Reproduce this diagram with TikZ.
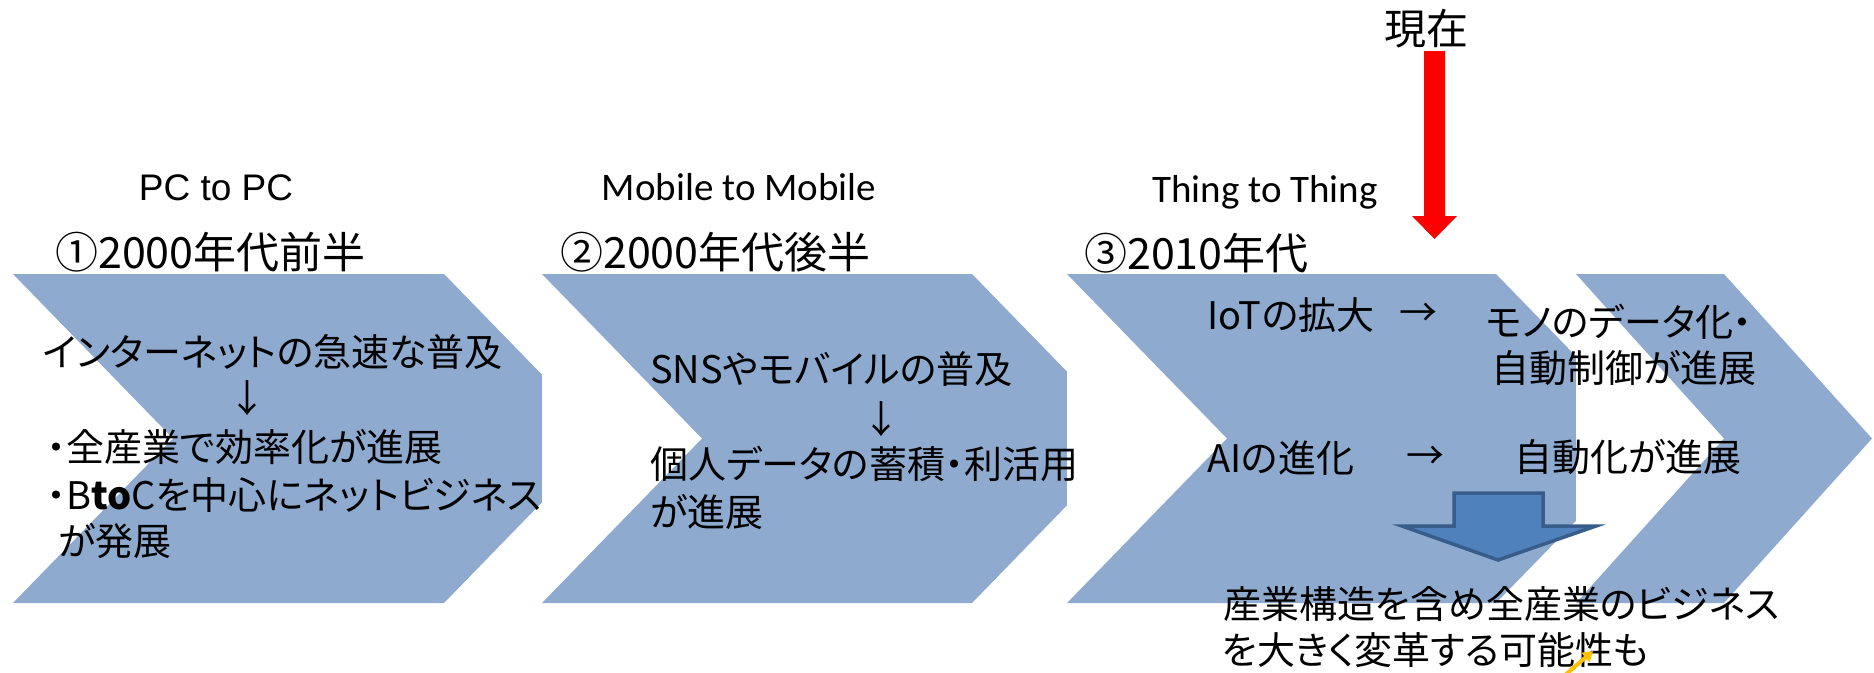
\documentclass[tikz,border=0pt]{standalone}
\usepackage{fontspec}
\setmainfont{Noto Sans CJK JP}[RawFeature=+palt]
\newfontfamily\carlitofont{Carlito}
\newfontfamily\arialfont{Liberation Sans}
\usetikzlibrary{arrows.meta}
\definecolor{chevblue}{RGB}{142,170,207}
\definecolor{arrowblue}{RGB}{79,129,189}
\definecolor{arrowedge}{RGB}{56,93,138}
\definecolor{marker}{RGB}{255,192,0}
\tikzset{
  jtext/.style={inner sep=0pt, anchor=west, font=\fontsize{38}{46}\selectfont},
  era/.style={inner sep=0pt, anchor=west, font=\fontsize{43}{50}\selectfont},
  tag/.style={inner sep=0pt, anchor=base, font=\carlitofont\fontsize{39}{46}\selectfont},
  down/.style={inner sep=0pt, font=\fontsize{38}{46}\selectfont},
}
\begin{document}
\begin{tikzpicture}[x=1pt,y=-1pt]
\useasboundingbox (0,0) rectangle (1874,672);

\fill[chevblue] (13,274) -- (444,274) -- (604,438.5) -- (444,603) -- (13,603) -- (173,438.5) -- cycle;
\fill[white] (542,274) -- (702,438.5) -- (542,603) -- cycle;
\fill[chevblue] (542,274) -- (972,274) -- (1132,438.5) -- (972,603) -- (542,603) -- (702,438.5) -- cycle;
\fill[white] (1067,274) -- (1227,438.5) -- (1067,603) -- cycle;
\fill[chevblue] (1067,274) -- (1496,274) -- (1656,438.5) -- (1496,603) -- (1067,603) -- (1227,438.5) -- cycle;
\fill[white] (1576,274) -- (1724,438.5) -- (1576,603) -- cycle;
\fill[chevblue] (1576,274) -- (1724,274) -- (1872,438.5) -- (1724,603) -- (1576,603) -- (1724,438.5) -- cycle;

\filldraw[fill=arrowblue, draw=arrowedge, line width=3.5pt, line join=miter] (1454,493) -- (1543,493) -- (1543,526) -- (1596,526) -- (1498,560) -- (1402,526) -- (1454,526) -- cycle;

\fill[red] (1424,51) -- (1445,51) -- (1445,216) -- (1457,216) -- (1434.5,239) -- (1412,216) -- (1424,216) -- cycle;
\node (now) [inner sep=0pt, font=\fontsize{42}{48}\selectfont] at (1426,29) {現在};

\node (pc) [inner sep=0pt, anchor=base, font=\arialfont\fontsize{37}{44}\selectfont] at (216,200) {PC to PC};
\node (mobile) [tag] at (739,200) {Mobile to Mobile};
\node (thing) [tag] at (1265,202) {Thing to Thing};

\node (era1) [era] at (55,252) {①2000年代前半};
\node (era2) [era] at (560,252) {②2000年代後半};
\node (era3) [era] at (1084,253) {③2010年代};

\node (net) [jtext] at (43,352) {インターネットの急速な普及};
\node (netdown) [down] at (247,398) {↓};
\node (eff) [jtext] at (47,447) {・全産業で効率化が進展};
\node (btoc) [jtext] at (47,495) {・B\textbf{to}Cを中心にネットビジネス};
\node (btoc2) [jtext] at (58,541) {が発展};

\node (sns) [jtext] at (650,369) {SNSやモバイルの普及};
\node (snsdown) [down] at (881,419) {↓};
\node (data) [jtext] at (650,464) {個人データの蓄積・利活用};
\node (data2) [jtext] at (650,512) {が進展};

\node (iot) [jtext] at (1207,315) {IoTの拡大};
\node (iotto) [down] at (1418,315) {→};
\node (thingdata) [jtext] at (1486,322) {モノのデータ化・};
\node (thingdata2) [jtext] at (1491,368) {自動制御が進展};
\node (ai) [jtext] at (1207,458) {AIの進化};
\node (aito) [down] at (1425,458) {→};
\node (auto) [jtext] at (1514,457) {自動化が進展};
\node (biz) [jtext] at (1223,604) {産業構造を含め全産業のビジネス};
\node (biz2) [jtext] at (1222,650) {を大きく変革する可能性も};

\coordinate (mkstart) at (1564,676);
\coordinate (mkend) at (1593,651);
\draw[marker, line width=4pt, -{Triangle[length=10pt,width=12pt]}] (mkstart) -- (mkend);
\end{tikzpicture}
\end{document}
